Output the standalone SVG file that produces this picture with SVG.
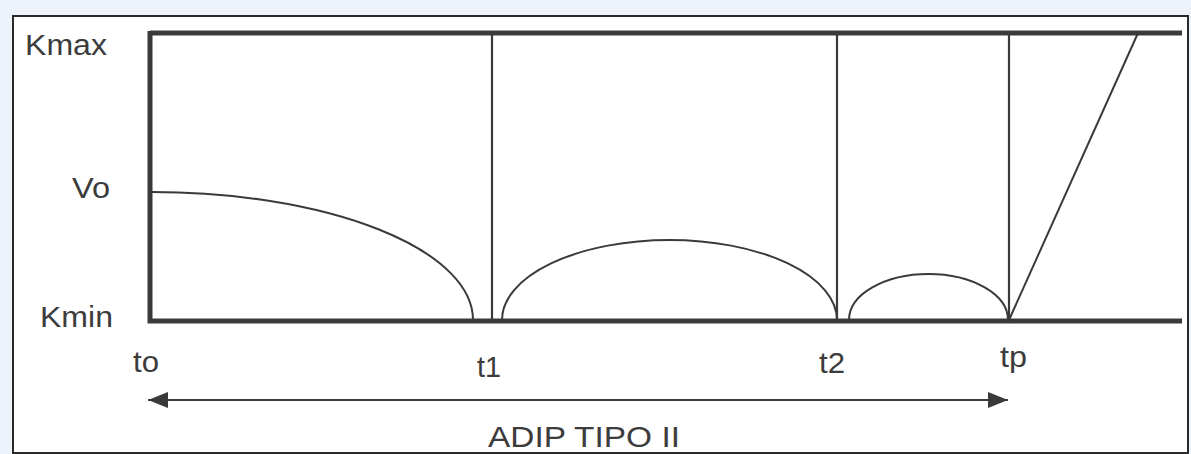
<svg xmlns="http://www.w3.org/2000/svg" width="1191" height="454" viewBox="0 0 1191 454">
<defs>
<style>
.lbl{font-family:"Liberation Sans",Arial,sans-serif;font-size:29px;fill:#3c3c3c}
.thick{stroke:#3a3a3a;stroke-width:5;fill:none}
.thin{stroke:#3a3a3a;stroke-width:2.2;fill:none}
.curve{stroke:#3a3a3a;stroke-width:2;fill:none}
</style>
<marker id="ah" viewBox="0 0 20 16" refX="20" refY="8" markerWidth="20" markerHeight="16" markerUnits="userSpaceOnUse" orient="auto-start-reverse">
<path d="M0,0 L20,8 L0,16 Z" fill="#3a3a3a"/>
</marker>
</defs>
<rect x="0" y="0" width="1191" height="454" fill="#eef2fa"/>
<rect x="13" y="16" width="1175" height="437" fill="#ffffff" stroke="#2a2a2a" stroke-width="2"/>
<g id="frame">
<path class="thick" d="M150,33 L1182,33"/>
<path class="thick" d="M150,31 L150,321 L1182,321"/>
</g>
<g id="verticals">
<path class="thin" d="M492,33 L492,320"/>
<path class="thin" d="M837,33 L837,320"/>
<path class="thin" d="M1009,33 L1009,320"/>
</g>
<g id="curves">
<path class="curve" d="M152,192 A321,128 0 0 1 473,320"/>
<path class="curve" d="M502,320 A167.5,80 0 0 1 837,320"/>
<path class="curve" d="M849,320 A79.5,46 0 0 1 1008,320"/>
<path class="curve" d="M1009,320 L1138,33"/>
</g>
<g id="connectors">
<path class="thin" d="M148,400 L1008,400" marker-start="url(#ah)" marker-end="url(#ah)"/>
</g>
<g id="labels">
<text class="lbl" x="25" y="55" textLength="82" lengthAdjust="spacingAndGlyphs">Kmax</text>
<text class="lbl" x="72" y="198" textLength="38" lengthAdjust="spacingAndGlyphs">Vo</text>
<text class="lbl" x="40" y="327" textLength="73" lengthAdjust="spacingAndGlyphs">Kmin</text>
<text class="lbl" x="133" y="372" textLength="26" lengthAdjust="spacingAndGlyphs">to</text>
<text class="lbl" x="477" y="377" textLength="24" lengthAdjust="spacingAndGlyphs">t1</text>
<text class="lbl" x="819" y="373" textLength="26" lengthAdjust="spacingAndGlyphs">t2</text>
<text class="lbl" x="1000" y="367" textLength="27" lengthAdjust="spacingAndGlyphs">tp</text>
<text class="lbl" x="488" y="447" textLength="192" lengthAdjust="spacingAndGlyphs">ADIP TIPO II</text>
</g>
</svg>
